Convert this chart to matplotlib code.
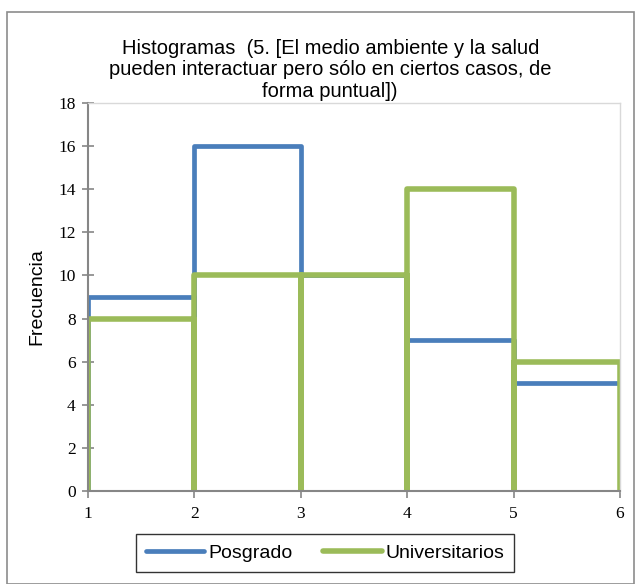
import matplotlib
matplotlib.use("Agg")
import matplotlib.pyplot as plt
from matplotlib.patches import Rectangle

bin_edges = [1, 2, 3, 4, 5, 6]
posgrado = [9, 16, 10, 7, 5]
universitarios = [8, 10, 10, 14, 6]
y_ticks = [0, 2, 4, 6, 8, 10, 12, 14, 16, 18]
title = "Histogramas  (5. [El medio ambiente y la salud\npueden interactuar pero sólo en ciertos casos, de\nforma puntual])"


def bin_outline(edges, counts):
    """
    Each bin drawn as up-across-down, the way the spreadsheet draws it
    """
    xs, ys = [], []
    for i, h in enumerate(counts):
        xs += [edges[i], edges[i], edges[i + 1], edges[i + 1]]
        ys += [0, h, h, 0]
    return xs, ys


fig = plt.figure(figsize=(6.35, 5.84), dpi=100)
fig.patches.append(Rectangle((7 / 635, 0), 627 / 635, 572 / 584, transform=fig.transFigure,
                             fill=False, edgecolor="#8c8c8c", linewidth=1.2))

ax = fig.add_axes([88 / 635, 93 / 584, 532 / 635, 388 / 584])

xs, ys = bin_outline(bin_edges, posgrado)
ax.plot(xs, ys, color="#4a7ebb", linewidth=3.4, label="Posgrado", solid_capstyle="butt")
xs, ys = bin_outline(bin_edges, universitarios)
ax.plot(xs, ys, color="#9bbb59", linewidth=4.0, label="Universitarios", solid_capstyle="butt")

ax.set_xlim(1, 6)
ax.set_ylim(0, 18)
ax.set_yticks(y_ticks)
ax.set_xticks(bin_edges)

for side in ["left", "bottom"]:
    ax.spines[side].set_color("#868686")
    ax.spines[side].set_linewidth(1.5)
for side in ["top", "right"]:
    ax.spines[side].set_color("#d9d9d9")
    ax.spines[side].set_linewidth(1.0)

ax.tick_params(axis="y", direction="inout", length=8, width=1.2, color="#868686",
               labelsize=12.5, pad=5)
ax.tick_params(axis="x", direction="out", length=5, width=1.2, color="#868686",
               labelsize=12.5, pad=6)
for lbl in ax.get_xticklabels() + ax.get_yticklabels():
    lbl.set_family("Liberation Serif")

ax.set_ylabel("Frecuencia", fontsize=14, family="Liberation Sans", labelpad=9)

fig.text(0.52, 0.934, title, ha="center", va="top", fontsize=14.5,
         family="Liberation Sans", linespacing=1.17)

leg = ax.legend(loc="center", bbox_to_anchor=(325 / 635, 31 / 584),
                bbox_transform=fig.transFigure, ncol=2, frameon=True, fancybox=False,
                prop={"family": "Liberation Sans", "size": 14},
                handlelength=3.0, handletextpad=0.2, columnspacing=1.6,
                borderpad=0.5, borderaxespad=0)
leg.get_frame().set_edgecolor("#000000")
leg.get_frame().set_linewidth(1.0)
for h in leg.get_lines():
    h.set_solid_capstyle("round")

fig.savefig("out.png", dpi=100)
